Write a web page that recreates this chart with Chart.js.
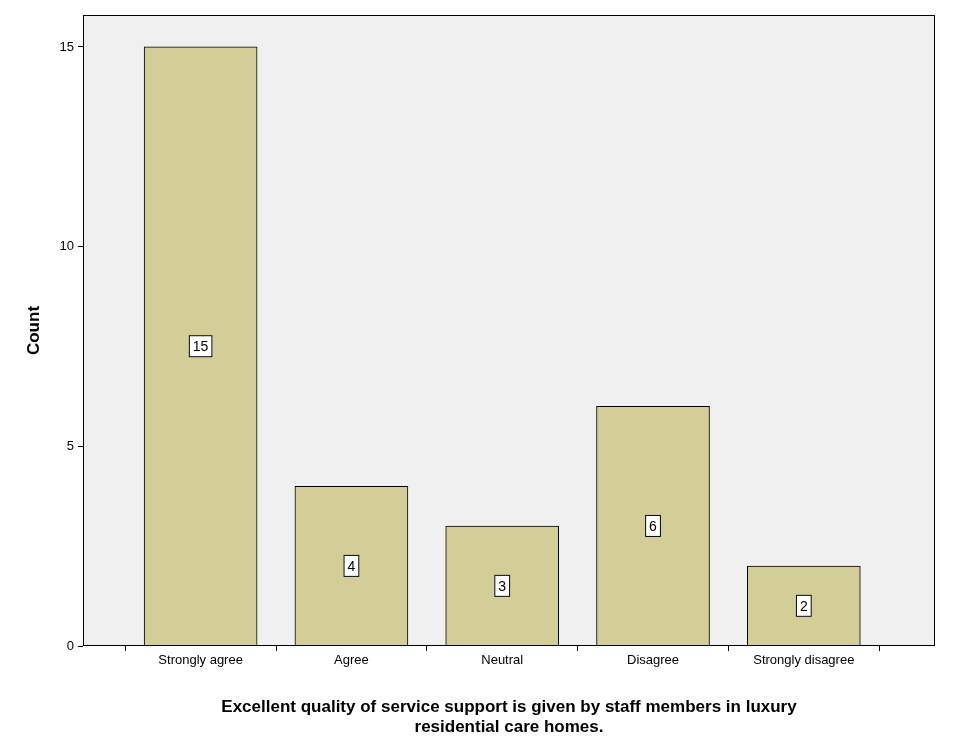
<!DOCTYPE html>
<html><head><meta charset="utf-8">
<script src="https://cdn.jsdelivr.net/npm/chart.js@4"></script>
<style>html,body{margin:0;padding:0;background:#fff}#w{width:973px;height:742px}</style>
</head><body><div id="w"><canvas id="c"></canvas></div>
<script>
const categories=["Strongly agree","Agree","Neutral","Disagree","Strongly disagree"];
const counts=[15,4,3,6,2];
const yTicks=[0,5,10,15];

const bgPlugin={id:'bg',beforeDraw(ch){const a=ch.chartArea,x=ch.ctx;x.save();x.fillStyle='#f0f0f0';x.fillRect(a.left,a.top,a.right-a.left,a.bottom-a.top);x.restore();},
afterDatasetsDraw(ch){const a=ch.chartArea,x=ch.ctx;x.save();x.strokeStyle='#000';x.lineWidth=1;x.strokeRect(a.left+0.5,a.top+0.5,a.right-a.left-1,a.bottom-a.top-1);
const m=ch.getDatasetMeta(0);x.font='14px Arial, "Liberation Sans"';x.textAlign='center';x.textBaseline='middle';
m.data.forEach((b,i)=>{const t=String(counts[i]);const cy=(b.y+b.base)/2;const w=x.measureText(t).width+8;x.fillStyle='#fff';x.fillRect(b.x-w/2,cy-11,w,22);x.strokeStyle='#000';x.strokeRect(b.x-w/2+0.5,cy-11+0.5,w-1,21);x.fillStyle='#000';x.fillText(t,b.x,cy+1);});
x.restore();}};

new Chart(document.getElementById('c'),{type:'bar',
data:{datasets:[{data:counts.map((v,i)=>({x:i,y:v})),backgroundColor:'#d3ce97',borderColor:'#000',borderWidth:1,barThickness:113}]},
options:{responsive:true,maintainAspectRatio:false,animation:false,
layout:{padding:{top:15,right:38,left:20,bottom:0}},
plugins:{legend:{display:false},tooltip:{enabled:false}},
scales:{
x:{type:'linear',offset:false,min:-0.78,max:4.87,afterBuildTicks(s){s.ticks=categories.map((c,i)=>({value:i}));},
afterFit(s){s.height=96;},
grid:{display:true,drawOnChartArea:false,drawTicks:true,tickLength:5,tickColor:'#000'},border:{display:false},
ticks:{color:'#000',font:{size:13,family:'Arial, "Liberation Sans"'},padding:2,maxRotation:0,autoSkip:false,callback:(v)=>categories[v]},
title:{display:true,text:['Excellent quality of service support is given by staff members in luxury','residential care homes.'],color:'#000',font:{size:17,weight:'bold',family:'Arial, "Liberation Sans"'},padding:{top:12},lineHeight:1.05}},
y:{min:0,max:15.8,afterBuildTicks(s){s.ticks=yTicks.map(v=>({value:v}));},afterFit(s){s.width=63;},
grid:{display:true,drawOnChartArea:false,drawTicks:true,tickLength:5,tickColor:'#000'},border:{display:false},
ticks:{color:'#000',font:{size:13,family:'Arial, "Liberation Sans"'},padding:4},
title:{display:true,text:'Count',color:'#000',font:{size:17,weight:'bold',family:'Arial, "Liberation Sans"'},padding:{bottom:4}}}}},
plugins:[bgPlugin]});
</script></body></html>
